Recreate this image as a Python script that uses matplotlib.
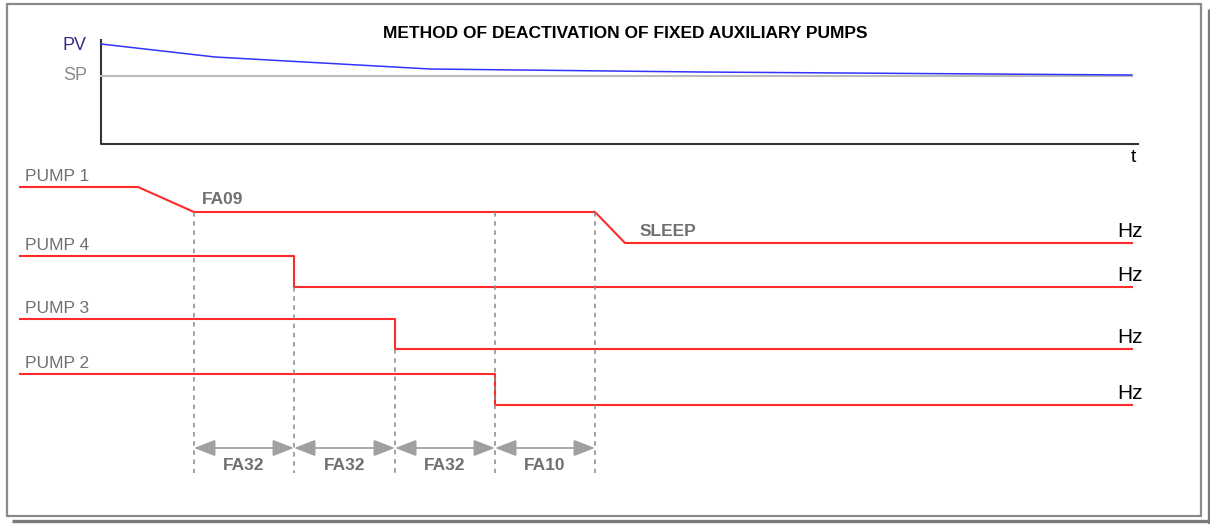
import matplotlib.pyplot as plt
from matplotlib.patches import Rectangle

plt.rcParams['font.family'] = ['Liberation Sans', 'DejaVu Sans']

# time marks along the diagram (t grows to the right)
t_start, t_end = 20, 1132
t_events = [194, 294, 395, 495, 595]   # FA09 reached, pump 4 off, pump 3 off, pump 2 off, sleep
gap_labels = ['FA32', 'FA32', 'FA32', 'FA10']
dash_top = [212, 287, 349, 212, 212]

# PV trend settling onto SP
pv_t = [101, 215, 430, 700, 1132]
pv_y = [44, 57, 69, 72, 75]
sp_y = 76

# pump traces (frequency levels, screen units, larger = lower)
pump_names = ['PUMP 1', 'PUMP 4', 'PUMP 3', 'PUMP 2']
pump_high = [187, 256, 319, 374]
pump_low = [212, 287, 349, 405]
sleep_level = 243
ramp_start = 138
sleep_end = 625

RED = '#ff2a2a'
GREY = '#707070'

fig = plt.figure(figsize=(12.1, 5.24), dpi=100)
ax = fig.add_axes([0, 0, 1, 1])
ax.set_xlim(0, 1210)
ax.set_ylim(524, 0)
ax.axis('off')

# frame with drop shadow
ax.add_patch(Rectangle((7, 4), 1194, 512, fill=False, edgecolor='#8a8a8a', lw=1.6))
ax.plot([1208.5, 1208.5], [9, 524], color='#7a7a7a', lw=2.4, solid_capstyle='butt')
ax.plot([12, 1210], [521, 521], color='#7a7a7a', lw=2.4, solid_capstyle='butt')

ax.text(625, 33, 'METHOD OF DEACTIVATION OF FIXED AUXILIARY PUMPS',
        ha='center', va='center', fontsize=12.5, fontweight='bold', color='black')

# PV / SP chart
ax.plot([101, 101, 1138], [40, 144, 144], color='#333333', lw=1.5)
ax.plot([101, t_end], [sp_y, sp_y], color='#bbbbbb', lw=1.5)
ax.plot(pv_t, pv_y, color='#3333ff', lw=1.1)
ax.text(87, pv_y[0] + 1, 'PV', ha='right', va='center', fontsize=13, color='#3a2a8a')
ax.text(87, sp_y, 'SP', ha='right', va='center', fontsize=13, color='#8a8a8a')
ax.text(1133, 157, 't', ha='center', va='center', fontsize=14, color='black')

# pump 1: ramps down to FA09, then to sleep
ax.plot([t_start, ramp_start, t_events[0], t_events[4], sleep_end, t_end],
        [pump_high[0], pump_high[0], pump_low[0], pump_low[0], sleep_level, sleep_level],
        color=RED, lw=1.5)
ax.text(202, pump_low[0] - 5, 'FA09', ha='left', va='bottom', fontsize=12.5,
        fontweight='bold', color=GREY)
ax.text(640, sleep_level - 4, 'SLEEP', ha='left', va='bottom', fontsize=12.5,
        fontweight='bold', color=GREY)

# pumps 4, 3, 2 switch off one after another
for i in range(1, 4):
    te = t_events[i]
    ax.plot([t_start, te, te, t_end],
            [pump_high[i], pump_high[i], pump_low[i], pump_low[i]],
            color=RED, lw=1.5)

ends = [sleep_level] + pump_low[1:]
for i, name in enumerate(pump_names):
    ax.text(25, pump_high[i] - 3, name, ha='left', va='bottom', fontsize=12.5, color=GREY)
    ax.text(1117, ends[i] - 2, 'Hz', ha='left', va='bottom', fontsize=15, color='black')

# timing marks
for te, top in zip(t_events, dash_top):
    ax.plot([te, te], [top, 473], color='#888888', lw=1.1, ls=(0, (3, 3)))

for i, lab in enumerate(gap_labels):
    a, b = t_events[i], t_events[i + 1]
    ax.annotate('', xy=(b, 448), xytext=(a, 448),
                arrowprops=dict(arrowstyle='<|-|>,head_length=1.3,head_width=0.5',
                                color='#a0a0a0', lw=1.3, shrinkA=0, shrinkB=0))
    ax.text((a + b) / 2, 466, lab, ha='center', va='center', fontsize=12.5,
            fontweight='bold', color=GREY)

fig.savefig('out.png', dpi=100)
